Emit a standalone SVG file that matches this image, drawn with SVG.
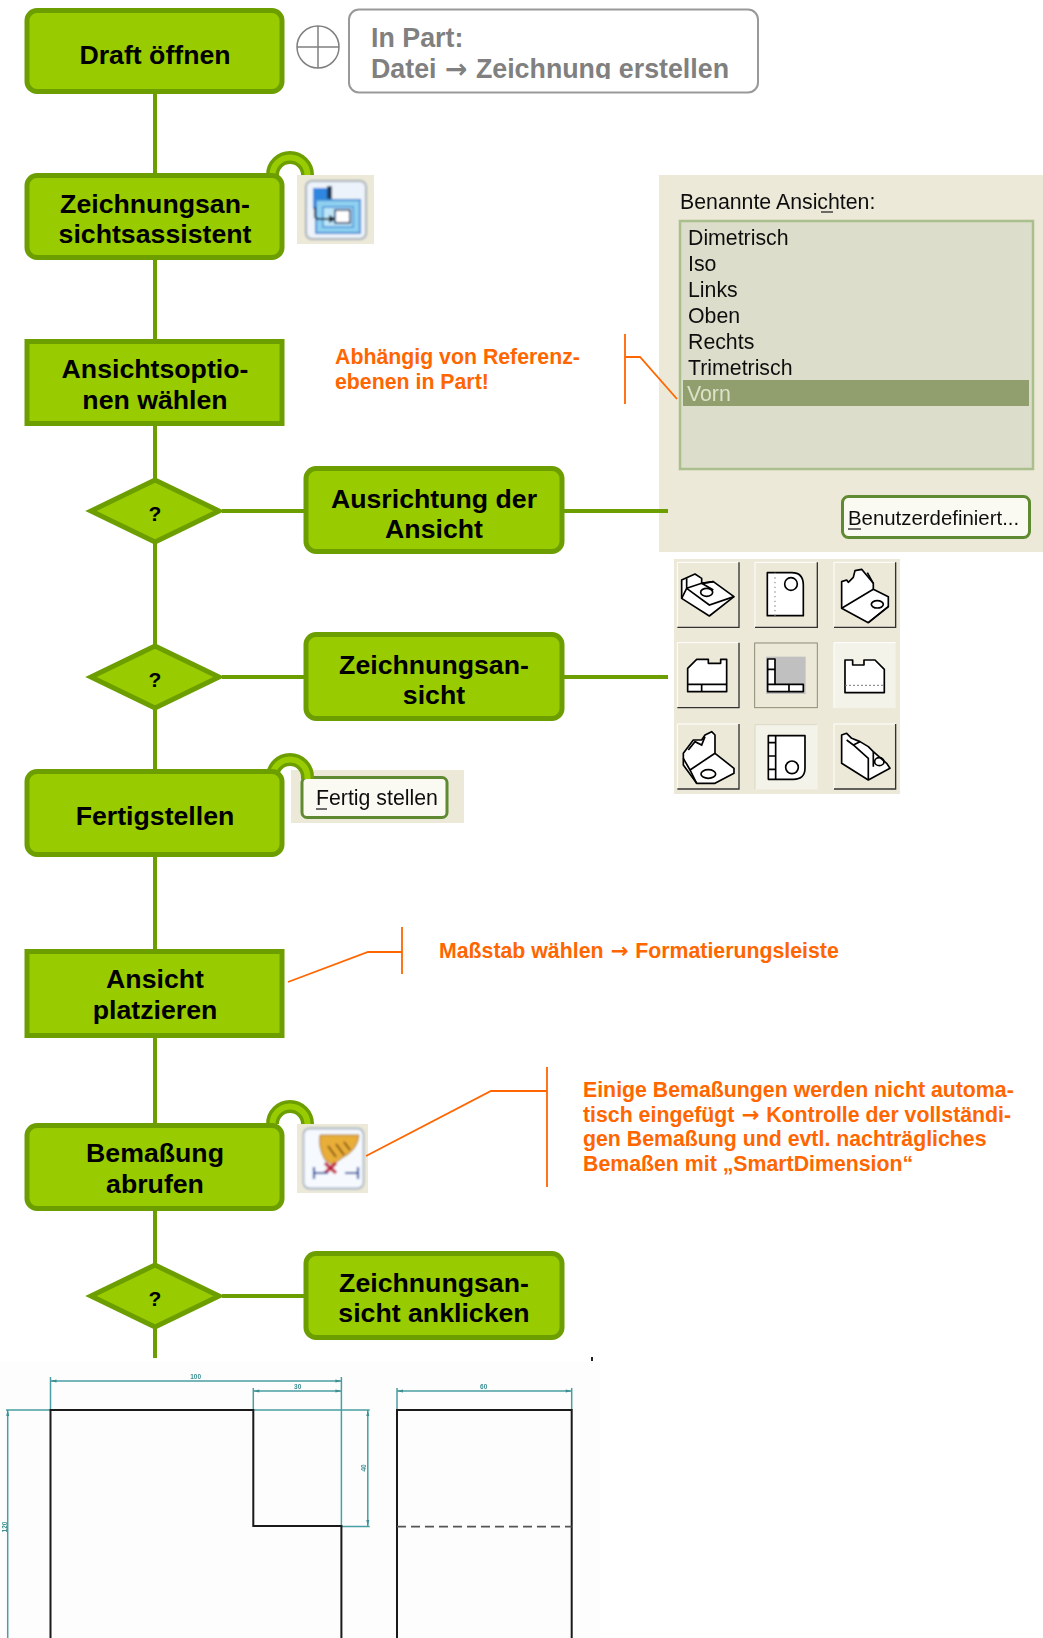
<svg xmlns="http://www.w3.org/2000/svg" width="1043" height="1638" viewBox="0 0 1043 1638">
<defs>
<style>
text{font-family:"Liberation Sans",Arial,sans-serif}
.ar{font-family:"DejaVu Sans",sans-serif;font-weight:bold}
.box{fill:#99CC00;stroke:#6C9E00;stroke-width:5}
.n{font-size:26.700px;font-weight:bold;fill:#000;text-anchor:middle}
.q{font-size:21px;font-weight:bold;fill:#000;text-anchor:middle}
.conn{fill:none;stroke:#6C9E00;stroke-width:4}
.ringo{fill:none;stroke:#6C9E00;stroke-width:13}
.ringi{fill:none;stroke:#99CC00;stroke-width:6}
.note{font-size:21.300px;font-weight:bold;fill:#FF6600}
.lead{fill:none;stroke:#FF6600;stroke-width:1.800}
.gray{font-size:26.800px;font-weight:bold;fill:#808080}
.ui{font-size:21.300px;fill:#111}
.panel{fill:#ECE9D8}
.btn{fill:#FBFAF2;stroke:#5F8A30;stroke-width:3}
.hl{fill:none;stroke:#fff;stroke-width:3}
.sh{fill:none;stroke:#333;stroke-width:4}
.pt{fill:#fff;stroke:#000;stroke-width:5;stroke-linejoin:round}
.pl{fill:none;stroke:#000;stroke-width:5}
.dim{fill:none;stroke:#4A9EA2;stroke-width:1.500}
.dt{font-size:6.500px;font-weight:bold;fill:#3D8F93;text-anchor:middle}
.ol{fill:none;stroke:#1A1A1A;stroke-width:2}
</style>
<filter id="soft" x="-5%" y="-5%" width="110%" height="110%"><feGaussianBlur stdDeviation="0.55"/></filter>
<filter id="soft2" x="-10%" y="-10%" width="120%" height="120%"><feGaussianBlur stdDeviation="0.8"/></filter>
<clipPath id="cut"><rect x="340" y="0" width="420" height="79"/></clipPath>
</defs>

<rect id="drawing-bg" x="0" y="1362" width="600" height="276" fill="#FDFDFD"/>

<g id="panel-views">
<rect class="panel" x="659" y="175" width="384" height="377"/>
<g filter="url(#soft)">
<text class="ui" x="680" y="209">Benannte Ansichten:</text>
<path d="M821,212H833" stroke="#222" stroke-width="1.300"/>
<rect x="680" y="221" width="353" height="248" fill="#DDDDCB" stroke="#A9C08C" stroke-width="2.500"/>
<rect x="683" y="380" width="346" height="26" fill="#919F6E"/>
<text class="ui" x="688" y="245">Dimetrisch</text>
<text class="ui" x="688" y="271">Iso</text>
<text class="ui" x="688" y="297">Links</text>
<text class="ui" x="688" y="323">Oben</text>
<text class="ui" x="688" y="349">Rechts</text>
<text class="ui" x="688" y="375">Trimetrisch</text>
<text class="ui" x="687" y="401" style="fill:#DDE2C8">Vorn</text>
<rect class="btn" x="842.500" y="496.500" width="187" height="41" rx="6"/>
<text class="ui" x="848" y="525" style="font-size:20.400px">Benutzerdefiniert...</text>
<path d="M848,529H861" stroke="#222" stroke-width="1.300"/>
</g>
</g>

<g id="panel-icons">
<rect class="panel" x="674" y="559" width="226" height="235"/>
<g transform="translate(660 550) scale(0.3333)" filter="url(#soft)">
<rect x="285" y="522" width="188" height="196" fill="#F4F3EA"/>
<rect x="522" y="278" width="185" height="196" fill="#F4F3EA"/>
<rect x="318" y="320" width="119" height="112" fill="#C0C0C0"/>
<path class="hl" d="M52,232V37H237M285,232V37H472M522,232V37H707M52,473V278H237M522,473V278H707M52,717V522H237M522,717V522H707"/>
<path class="sh" d="M52,232H237V37M285,232H472V37M522,232H707V37M52,473H237V278M52,717H237V522M522,717H707V522"/>
<rect x="284" y="279" width="188" height="194" fill="none" stroke="#8E8C76" stroke-width="3"/>
<path d="M285,717V524H472" fill="none" stroke="#D9D7C4" stroke-width="3"/>
<path class="pt" d="M65,90L105,72L125,85V100L160,95L222,140L148,198L65,145Z"/>
<path class="pl" d="M80,85V115L65,145M80,115L125,100L160,95M80,115L148,165L222,140M125,100L160,120"/>
<ellipse class="pl" cx="140" cy="127" rx="18" ry="12"/>
<path class="pt" d="M322,68H395Q430,68 430,105V197H322Z"/>
<circle class="pl" cx="393" cy="102" r="19"/>
<path d="M345,68V197" stroke="#999" stroke-width="4" stroke-dasharray="4 10"/>
<path class="pt" d="M545,95L560,90L565,97L580,82L585,62L605,58L640,100V118L685,140V170L625,218L545,175Z"/>
<path class="pl" d="M640,118L545,175M625,218L685,170M622,68L640,100"/>
<ellipse class="pl" cx="652" cy="163" rx="18" ry="11"/>
<path class="pt" d="M83,355L110,328H145V340H182V328H200V425H83Z"/>
<path class="pl" d="M83,403H200M125,403V425"/>
<path class="pt" d="M323,327H345V403H430V425H323Z"/>
<path class="pl" d="M323,358H345M323,403H345M387,403V425"/>
<path class="pt" d="M555,330H578V345H612V330H645L673,358V428H555Z"/>
<path d="M555,406H673" stroke="#777" stroke-width="3" stroke-dasharray="6 6"/>
<path class="pt" d="M70,610L100,570H125L135,555L155,545L165,555V610L222,655V670L165,700H110L70,645Z"/>
<path class="pl" d="M85,600L105,575L125,585L135,560M70,625L90,660L165,610M90,660L110,700"/>
<ellipse class="pl" cx="145" cy="672" rx="22" ry="13"/>
<path class="pt" d="M325,557H435V655Q435,688 400,688H325Z"/>
<path class="pl" d="M347,557V688M325,578H347M325,618H347M325,658H347"/>
<circle class="pl" cx="396" cy="652" r="19"/>
<path class="pt" d="M545,555L560,550L575,565L600,575L625,590L640,605L680,640L690,655L625,690L545,640Z"/>
<path class="pl" d="M560,570L580,585L600,575M580,585L625,625V690M640,605L640,650"/>
<ellipse class="pl" cx="658" cy="635" rx="14" ry="12"/>
</g>
</g>

<g id="panel-finish">
<rect class="panel" x="291" y="770" width="173" height="53"/>
<g filter="url(#soft)">
<rect class="btn" x="302" y="777.500" width="145" height="40" rx="5"/>
<text class="ui" x="316" y="805">Fertig stellen</text>
<path d="M316,809H327" stroke="#222" stroke-width="1.300"/>
</g>
</g>

<g id="icon-wizard">
<rect class="panel" x="297" y="175" width="77" height="69"/>
<g filter="url(#soft2)">
<rect x="306" y="181" width="60" height="58" rx="6" fill="#EDF3FA" stroke="#A8B0B8" stroke-width="2"/>
<rect x="313" y="188" width="18" height="21" fill="#2F86E0"/>
<rect x="327" y="186" width="5" height="16" fill="#1B3A5C"/>
<rect x="316" y="200" width="44" height="33" fill="#8FD0F0" stroke="#3F8FD8" stroke-width="2"/>
<rect x="323" y="207" width="30" height="20" fill="#BFE6F8" stroke="#3F8FD8" stroke-width="1.500"/>
<rect x="335" y="210" width="15" height="13" fill="#fff" stroke="#1F3F70" stroke-width="1.800"/>
<path d="M315,207V216Q315,219 320,219H333" fill="none" stroke="#123" stroke-width="2"/>
<path d="M336,219L329,215V223Z" fill="#123"/>
</g>
</g>

<g id="icon-dimension">
<rect class="panel" x="297" y="1124" width="71" height="69"/>
<g filter="url(#soft2)">
<rect x="303.500" y="1128.500" width="60" height="60" rx="6" fill="#F6FAFF" stroke="#A8B4C4" stroke-width="1.800"/>
<path d="M320,1135H359Q358,1150 342,1158L333,1165L325,1160Q318,1148 320,1135Z" fill="#E8AE38" stroke="#A87820" stroke-width="1"/>
<path d="M328,1146L336,1157M336,1144L344,1155M344,1142L350,1150" stroke="#7A4A08" stroke-width="1.800"/>
<path d="M325,1163L336,1173M336,1163L325,1173" stroke="#C02040" stroke-width="3.500"/>
<path d="M314,1167V1179M314,1173H328M345,1173H358M358,1167V1179" fill="none" stroke="#2050A0" stroke-width="2.200"/>
</g>
</g>

<g id="connectors">
<path class="conn" d="M155,93V1358"/>
<path class="conn" d="M222,511H304M564,511H668M222,677H304M564,677H668M222,1296H304"/>
<path class="ringo" d="M272.500,175A17.500,17.500 0 0 1 307.500,175"/>
<path class="ringi" d="M272.500,175A17.500,17.500 0 0 1 307.500,175"/>
<path class="ringo" d="M272.500,777A17.500,17.500 0 0 1 307.500,777V779"/>
<path class="ringi" d="M272.500,777A17.500,17.500 0 0 1 307.500,777V779"/>
<path class="ringo" d="M272.500,1124A17.500,17.500 0 0 1 307.500,1124"/>
<path class="ringi" d="M272.500,1124A17.500,17.500 0 0 1 307.500,1124"/>
<path class="lead" d="M625,334V404M625,357H640L677,399"/>
<path class="lead" d="M402,927V974M402,952H368L288,982"/>
<path class="lead" d="M547,1067V1187M547,1091H491L366,1156"/>
</g>

<g id="node-draft"><rect class="box" x="27" y="10.500" width="255" height="81" rx="10"/><text class="n" x="155" y="64">Draft öffnen</text></g>
<g id="node-wizard"><rect class="box" x="27" y="175.500" width="255" height="82" rx="10"/><text class="n" x="155" y="213">Zeichnungsan-</text><text class="n" x="155" y="243">sichtsassistent</text></g>
<g id="node-options"><rect class="box" x="27" y="341.500" width="255" height="82"/><text class="n" x="155" y="378">Ansichtsoptio-</text><text class="n" x="155" y="409">nen wählen</text></g>
<g id="node-q1"><path class="box" d="M91,511L155,480L219,511L155,542Z"/><text class="q" x="155" y="521">?</text></g>
<g id="node-orient"><rect class="box" x="306" y="468.500" width="256" height="83" rx="10"/><text class="n" x="434" y="508">Ausrichtung der</text><text class="n" x="434" y="538">Ansicht</text></g>
<g id="node-q2"><path class="box" d="M91,677L155,646L219,677L155,708Z"/><text class="q" x="155" y="687">?</text></g>
<g id="node-view"><rect class="box" x="306" y="634.500" width="256" height="84" rx="10"/><text class="n" x="434" y="674">Zeichnungsan-</text><text class="n" x="434" y="704">sicht</text></g>
<g id="node-finish"><rect class="box" x="27" y="771.500" width="255" height="83" rx="10"/><text class="n" x="155" y="825">Fertigstellen</text></g>
<g id="node-place"><rect class="box" x="27" y="951.500" width="255" height="84"/><text class="n" x="155" y="988">Ansicht</text><text class="n" x="155" y="1019">platzieren</text></g>
<g id="node-dim"><rect class="box" x="27" y="1125.500" width="255" height="83" rx="10"/><text class="n" x="155" y="1162">Bemaßung</text><text class="n" x="155" y="1193">abrufen</text></g>
<g id="node-q3"><path class="box" d="M91,1296L155,1265L219,1296L155,1327Z"/><text class="q" x="155" y="1306">?</text></g>
<g id="node-click"><rect class="box" x="306" y="1253.500" width="256" height="84" rx="10"/><text class="n" x="434" y="1292">Zeichnungsan-</text><text class="n" x="434" y="1322">sicht anklicken</text></g>

<g id="node-part">
<circle cx="318" cy="47" r="21" fill="none" stroke="#808080" stroke-width="1.500"/>
<path d="M297,47H339M318,26V68" stroke="#808080" stroke-width="1.500"/>
<rect x="349" y="9.500" width="409" height="83" rx="10" fill="#fff" stroke="#999" stroke-width="2"/>
<g clip-path="url(#cut)"><text class="gray" x="371" y="47">In Part:</text><text class="gray" x="371" y="78">Datei <tspan class="ar" dx="1">→</tspan> <tspan dx="1">Zeichnung erstellen</tspan></text></g>
</g>

<g id="notes">
<text class="note" x="335" y="364">Abhängig von Referenz-</text>
<text class="note" x="335" y="389">ebenen in Part!</text>
<text class="note" x="439" y="958">Maßstab wählen <tspan class="ar" dx="1">→</tspan> <tspan dx="1">Formatierungsleiste</tspan></text>
<text class="note" x="583" y="1097">Einige Bemaßungen werden nicht automa-</text>
<text class="note" x="583" y="1122">tisch eingefügt <tspan class="ar" dx="1">→</tspan> <tspan dx="1">Kontrolle der vollständi-</tspan></text>
<text class="note" x="583" y="1146">gen Bemaßung und evtl. nachträgliches</text>
<text class="note" x="583" y="1171">Bemaßen mit „SmartDimension“</text>
</g>

<rect x="591" y="1357" width="2" height="4" fill="#222"/>

<g id="drawing">
<g filter="url(#soft)">
<path class="dim" d="M50.500,1377V1410M341.400,1377V1526M253.300,1388V1410M397,1388V1410M571.700,1388V1410"/>
<path class="dim" d="M50.500,1381H341.400M253.300,1391H341.400M397,1391H571.700"/>
<path class="dim" d="M6,1410H50.500M253.300,1410H369.700M341.400,1526.500H369.700M367.800,1410V1526M7.700,1410V1638"/>
<path d="M50.500,1381l6,-1.500v3ZM341.400,1381l-6,-1.500v3ZM253.300,1391l6,-1.500v3ZM341.400,1391l-6,-1.500v3ZM397,1391l6,-1.500v3ZM571.700,1391l-6,-1.500v3ZM367.800,1410l-1.500,6h3ZM367.800,1526l-1.500,-6h3ZM7.700,1410l-1.500,6h3Z" fill="#3D8F93"/>
<text class="dt" x="195.600" y="1379">100</text>
<text class="dt" x="297.700" y="1389">30</text>
<text class="dt" x="483.700" y="1389">60</text>
<text class="dt" transform="translate(365.500 1468) rotate(-90)">40</text>
<text class="dt" transform="translate(6.500 1527) rotate(-90)">120</text>
</g>
<path class="ol" d="M50.500,1638V1410H253.300V1526H341.400V1638"/>
<path class="ol" d="M397,1638V1410H571.700V1638"/>
<path d="M397,1526.700H571.700" fill="none" stroke="#555" stroke-width="1.800" stroke-dasharray="9 5"/>
</g>
</svg>
